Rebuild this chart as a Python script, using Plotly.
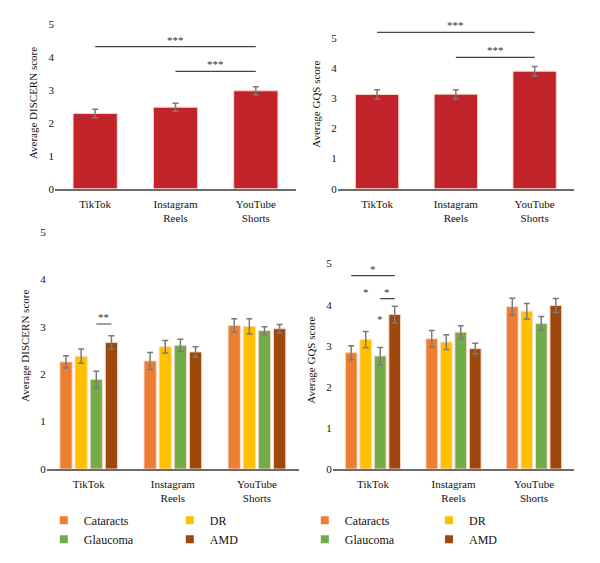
import plotly.graph_objects as go

# ---------------- data ----------------
categories = ["TikTok", "Instagram<br>Reels", "YouTube<br>Shorts"]

discern_overall = [2.28, 2.47, 2.97]
discern_overall_err = [0.13, 0.12, 0.12]
gqs_overall = [3.12, 3.13, 3.89]
gqs_overall_err = [0.16, 0.15, 0.16]

diseases = ["Cataracts", "DR", "Glaucoma", "AMD"]
disease_colors = ["#ED7D31", "#FFC000", "#70AD47", "#9E480E"]

discern_by_disease = [
    [2.26, 2.28, 3.03],
    [2.38, 2.58, 3.01],
    [1.89, 2.61, 2.92],
    [2.67, 2.47, 2.96],
]
discern_by_disease_err = [
    [0.13, 0.18, 0.14],
    [0.15, 0.13, 0.16],
    [0.17, 0.13, 0.08],
    [0.14, 0.11, 0.09],
]
gqs_by_disease = [
    [2.83, 3.17, 3.95],
    [3.15, 3.09, 3.84],
    [2.75, 3.33, 3.54],
    [3.76, 2.93, 3.98],
]
gqs_by_disease_err = [
    [0.17, 0.20, 0.21],
    [0.20, 0.18, 0.19],
    [0.21, 0.16, 0.17],
    [0.20, 0.13, 0.17],
]

# significance brackets: (x0, x1, y, label)
sig_top_left = [(0, 2, 4.31, "***"), (1, 2, 3.56, "***")]
sig_top_right = [(0, 2, 5.18, "***"), (1, 2, 4.35, "***")]
# bottom: (category index, disease index from, disease index to, y, label)
sig_bottom_left = [(0, 2, 3, 3.06, "**")]
sig_bottom_right = [(0, 0, 3, 4.71, "*"), (0, 2, 3, 4.15, "*")]
# single stars: (category index, disease index, y, label)
star_bottom_right = [(0, 1, 4.15, "*"), (0, 2, 3.49, "*")]

# ---------------- style ----------------
FONT = "Liberation Serif"
RED = "#C1232B"
ERR_COLOR = "#7a7a7a"
TEXT = "#111"
BAR_STEP = 0.18
BAR_W = 0.145
group_span = BAR_STEP * 3 + BAR_W
offsets = [-group_span / 2 + i * BAR_STEP for i in range(4)]


def bar_center(cat, d):
    return cat + offsets[d] + BAR_W / 2


fig = go.Figure()

edge = dict(color="rgba(255,215,200,0.9)", width=1)

# top panels
fig.add_trace(go.Bar(
    x=categories, y=discern_overall, width=0.55, marker=dict(color=RED, line=edge),
    error_y=dict(type="data", array=discern_overall_err, color=ERR_COLOR, thickness=1.5, width=3),
    xaxis="x", yaxis="y", showlegend=False))
fig.add_trace(go.Bar(
    x=categories, y=gqs_overall, width=0.55, marker=dict(color=RED, line=edge),
    error_y=dict(type="data", array=gqs_overall_err, color=ERR_COLOR, thickness=1.5, width=3),
    xaxis="x2", yaxis="y2", showlegend=False))

# bottom panels
for d, name in enumerate(diseases):
    fig.add_trace(go.Bar(
        x=categories, y=discern_by_disease[d], width=BAR_W, offset=offsets[d],
        marker=dict(color=disease_colors[d], line=edge), name=name,
        error_y=dict(type="data", array=discern_by_disease_err[d], color=ERR_COLOR, thickness=1.5, width=3),
        xaxis="x3", yaxis="y3", showlegend=False))
    fig.add_trace(go.Bar(
        x=categories, y=gqs_by_disease[d], width=BAR_W, offset=offsets[d],
        marker=dict(color=disease_colors[d], line=edge), name=name,
        error_y=dict(type="data", array=gqs_by_disease_err[d], color=ERR_COLOR, thickness=1.5, width=3),
        xaxis="x4", yaxis="y4", showlegend=False))

# legend entries (two legends, each with two columns)
legend_names = [["legend", "legend2"], ["legend3", "legend4"]]
for panel, (ax, ay) in enumerate([("x3", "y3"), ("x4", "y4")]):
    for d, name in enumerate(diseases):
        col = d % 2
        fig.add_trace(go.Scatter(
            x=[None], y=[None], mode="markers", name=name,
            marker=dict(symbol="square", size=8, color=disease_colors[d]),
            xaxis=ax, yaxis=ay, legend=legend_names[panel][col], showlegend=True))

shapes = []
annotations = []


def add_bracket(xref, yref, x0, x1, y, label):
    shapes.append(dict(type="line", xref=xref, yref=yref, x0=x0, x1=x1, y0=y, y1=y,
                       line=dict(color="#444", width=1.2)))
    annotations.append(dict(xref=xref, yref=yref, x=(x0 + x1) / 2, y=y, text=label,
                            showarrow=False, yanchor="bottom", yshift=-1,
                            font=dict(family=FONT, size=11, color="#333")))


for x0, x1, y, lab in sig_top_left:
    add_bracket("x", "y", x0, x1, y, lab)
for x0, x1, y, lab in sig_top_right:
    add_bracket("x2", "y2", x0, x1, y, lab)
for c, d0, d1, y, lab in sig_bottom_left:
    add_bracket("x3", "y3", bar_center(c, d0), bar_center(c, d1), y, lab)
for c, d0, d1, y, lab in sig_bottom_right:
    add_bracket("x4", "y4", bar_center(c, d0), bar_center(c, d1), y, lab)
for c, d, y, lab in star_bottom_right:
    annotations.append(dict(xref="x4", yref="y4", x=bar_center(c, d), y=y, text=lab,
                            showarrow=False, yanchor="bottom", yshift=-1,
                            font=dict(family=FONT, size=11, color="#333")))

xcommon = dict(showline=True, linecolor="#6b6b6b", linewidth=1.5, ticks="", showgrid=False,
               zeroline=False, tickfont=dict(family=FONT, size=11, color=TEXT),
               ticklabelstandoff=4, fixedrange=True)
ycommon = dict(showline=False, showgrid=False, zeroline=False, ticks="",
               tickvals=[0, 1, 2, 3, 4, 5], tickfont=dict(family=FONT, size=11, color=TEXT),
               title_font=dict(family=FONT, size=11, color=TEXT), fixedrange=True)

legend_common = dict(orientation="v", bgcolor="rgba(0,0,0,0)", borderwidth=0,
                     font=dict(family=FONT, size=12, color=TEXT),
                     xanchor="left", yanchor="top", itemwidth=30, tracegroupgap=0)

fig.update_layout(
    width=600, height=563,
    margin=dict(l=0, r=0, t=0, b=0),
    paper_bgcolor="white", plot_bgcolor="white",
    barmode="overlay",
    font=dict(family=FONT, size=11, color=TEXT),
    xaxis=dict(xcommon, domain=[0.0917, 0.4933], anchor="y"),
    yaxis=dict(ycommon, domain=[0.6613, 0.9689], range=[0, 5.2], anchor="x",
               title=dict(text="Average DISCERN score", standoff=8)),
    xaxis2=dict(xcommon, domain=[0.5628, 0.9567], anchor="y2"),
    yaxis2=dict(ycommon, domain=[0.6613, 0.9647], range=[0, 5.6], anchor="x2",
                title=dict(text="Average GQS score", standoff=8)),
    xaxis3=dict(xcommon, domain=[0.0778, 0.4983], anchor="y3"),
    yaxis3=dict(ycommon, domain=[0.1581, 0.6003], range=[0, 5.2], anchor="x3",
                title=dict(text="Average DISCERN score", standoff=8)),
    xaxis4=dict(xcommon, domain=[0.5545, 0.9572], anchor="y4"),
    yaxis4=dict(ycommon, domain=[0.1581, 0.5488], range=[0, 5.3], anchor="x4",
                title=dict(text="Average GQS score", standoff=8)),
    legend=dict(legend_common, x=0.073, y=0.092),
    legend2=dict(legend_common, x=0.283, y=0.092),
    legend3=dict(legend_common, x=0.508, y=0.092),
    legend4=dict(legend_common, x=0.715, y=0.092),
    shapes=shapes,
    annotations=annotations,
)

fig.write_html("out.html")
